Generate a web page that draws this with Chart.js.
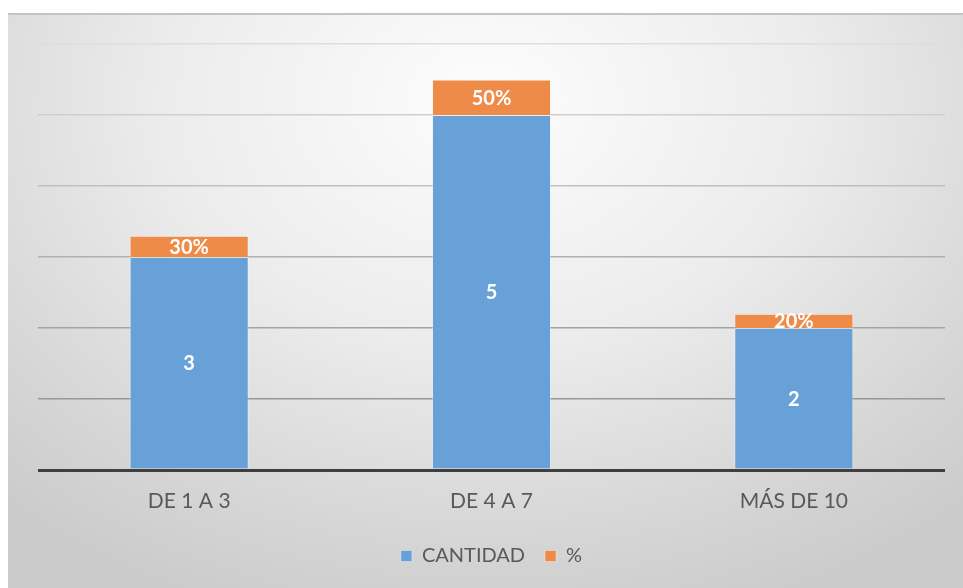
<!DOCTYPE html>
<html>
<head>
<meta charset="utf-8">
<script src="https://cdn.jsdelivr.net/npm/chart.js@4/dist/chart.umd.min.js"></script>
<style>
  html, body { margin: 0; padding: 0; background: #ffffff; }
  #wrap {
    position: absolute; left: 8px; top: 13px; width: 955px; height: 575px;
    background: radial-gradient(ellipse 75% 95% at 50% 15%, #fdfdfd 0%, #ececec 45%, #d6d6d6 80%, #cbcbcb 100%);
    border-top: 2px solid #c4c4c4;
    box-sizing: border-box;
  }
</style>
</head>
<body>
<div id="wrap"><canvas id="chart" width="955" height="573"></canvas></div>
<script>
// Chart data
const categories = ['DE 1 A 3', 'DE 4 A 7', 'MÁS DE 10'];
const cantidad = [3, 5, 2];
const porcentaje = [0.3, 0.5, 0.2];

const textGray = '#595959';
const fontFamily = 'Lato, "Open Sans", sans-serif';

// Gridlines fade from light at the top to darker near the baseline
let gridGradient = null;
function gridColor(c) {
    if (c.tick && c.tick.value === 0) return '#3f3f3f';
    const area = c.chart.chartArea;
    if (!area) return '#a8a8a8';
    if (!gridGradient) {
        gridGradient = c.chart.ctx.createLinearGradient(0, area.top, 0, area.bottom);
        gridGradient.addColorStop(0, '#dedede');
        gridGradient.addColorStop(0.5, '#b0b0b0');
        gridGradient.addColorStop(1, '#8a8a8a');
    }
    return gridGradient;
}

// Draw value labels centred in each segment
const segmentLabels = {
    id: 'segmentLabels',
    afterDatasetsDraw(chart) {
        const ctx = chart.ctx;
        ctx.save();
        ctx.fillStyle = '#ffffff';
        ctx.font = 'bold 20px ' + fontFamily;
        ctx.textAlign = 'center';
        ctx.textBaseline = 'middle';
        chart.data.datasets.forEach((ds, di) => {
            const meta = chart.getDatasetMeta(di);
            meta.data.forEach((bar, i) => {
                const v = ds.data[i];
                const text = di === 0 ? String(v) : Math.round(v * 100) + '%';
                const y = (bar.y + bar.base) / 2;
                ctx.fillText(text, bar.x, y + 1);
            });
        });
        ctx.restore();
    }
};

new Chart(document.getElementById('chart'), {
    type: 'bar',
    data: {
        labels: categories,
        datasets: [
            {
                label: 'CANTIDAD',
                data: cantidad,
                backgroundColor: '#68a1d7',
                borderColor: 'rgba(255,255,255,0.35)',
                borderWidth: 1
            },
            {
                label: '%',
                data: porcentaje,
                backgroundColor: '#ef8b48',
                borderColor: 'rgba(255,255,255,0.35)',
                borderWidth: 1
            }
        ]
    },
    options: {
        responsive: false,
        animation: false,
        layout: { padding: { left: 30, right: 18, top: 29, bottom: 12 } },
        datasets: {
            bar: { barPercentage: 0.394, categoryPercentage: 1 }
        },
        plugins: {
            tooltip: { enabled: false },
            legend: {
                position: 'bottom',
                labels: {
                    color: textGray,
                    font: { family: fontFamily, size: 20 },
                    boxWidth: 11,
                    boxHeight: 11,
                    padding: 20
                }
            }
        },
        scales: {
            x: {
                stacked: true,
                grid: { display: false, drawTicks: false },
                border: { display: false },
                ticks: {
                    color: textGray,
                    font: { family: fontFamily, size: 21 },
                    padding: 19
                },
                afterFit(scale) { scale.height = 56; }
            },
            y: {
                stacked: true,
                min: 0,
                max: 6,
                ticks: { display: false, stepSize: 1 },
                border: { display: false },
                grid: {
                    drawTicks: false,
                    color: gridColor,
                    lineWidth: (c) => c.tick && c.tick.value === 0 ? 3 : 1.5
                },
                afterFit(scale) { scale.width = 0; }
            }
        }
    },
    plugins: [segmentLabels]
});
</script>
</body>
</html>
